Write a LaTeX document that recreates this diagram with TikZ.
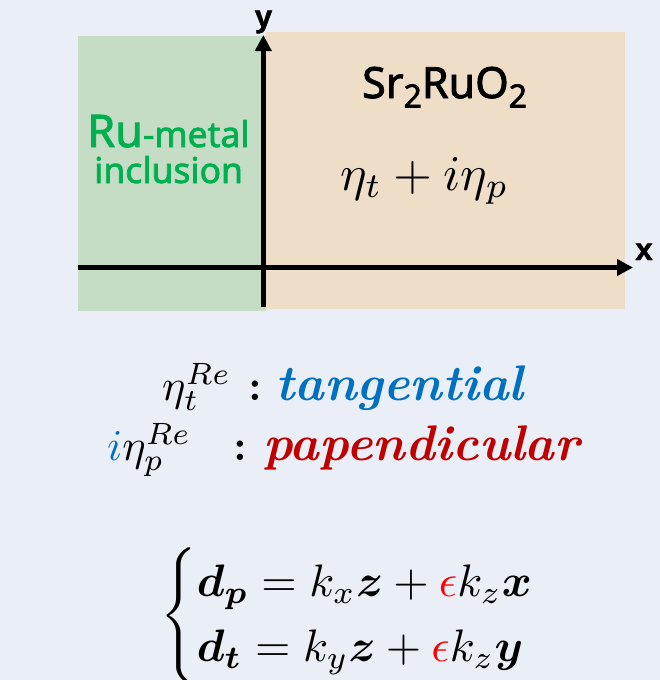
\documentclass[tikz,border=0pt]{standalone}
\usepackage{amsmath,bm}
\usepackage{fontspec}
\newfontfamily\sfnoto[FakeBold=2]{Noto Sans}
\newfontfamily\sfbold[FakeBold=1.5]{Liberation Sans Bold}
\usetikzlibrary{arrows.meta}
\definecolor{bgc}{RGB}{234,238,247}
\definecolor{greenfill}{RGB}{197,220,197}
\definecolor{tanfill}{RGB}{238,222,200}
\definecolor{rugreen}{RGB}{0,176,80}
\definecolor{tblue}{RGB}{0,112,192}
\definecolor{pred}{RGB}{192,0,0}
\definecolor{epsred}{RGB}{255,0,0}
\tikzset{
  axisline/.style={line width=5pt,-{Triangle[length=16pt,width=16pt]}},
  txt/.style={inner sep=0pt,anchor=base west},
}
\begin{document}
\begin{tikzpicture}[x=1pt,y=-1pt]
\fill[bgc] (0,0) rectangle (660,680);
\useasboundingbox (0,0) rectangle (660,680);
\fill[greenfill] (78,36) rectangle (265.5,311);
\fill[tanfill] (265.5,32) rectangle (625,309);
\coordinate (xs) at (78,267.5);
\coordinate (xe) at (633,267.5);
\coordinate (ys) at (263.3,307);
\coordinate (ye) at (263.3,35);
\draw[axisline] (xs) -- (xe);
\draw[axisline] (ys) -- (ye);
\node[inner sep=0pt,anchor=base] (ylab) at (263.5,27) {\sfbold\fontsize{31}{33}\selectfont y};
\node[inner sep=0pt,anchor=base] (xlab) at (644,260) {\sfbold\fontsize{31}{33}\selectfont x};
\node[txt] (sr) at (362,98) {\sfnoto\fontsize{43}{45}\selectfont Sr\raisebox{-0.22em}{\fontsize{32}{32}\selectfont 2}RuO\raisebox{-0.22em}{\fontsize{32}{32}\selectfont 2}};
\node[txt,text=rugreen] (ru) at (87,147) {\sfnoto\fontsize{45}{47}\selectfont Ru\fontsize{35.5}{37}\selectfont -metal};
\node[txt,text=rugreen] (incl) at (94,183) {\sfnoto\fontsize{35.5}{37}\selectfont inclusion};
\node[txt] (eta) at (340,190) {\scalebox{5}{$\eta_t + i\eta_p$}};
\node[txt] (e1) at (162,400) {\scalebox{4.4}{$\eta_t^{Re}$}};
\node[txt] (c1) at (248,400) {\fontsize{44}{46}\selectfont\bfseries :};
\node[txt,text=tblue] (w1) at (275,400) {\fontsize{50}{52}\selectfont\bfseries\itshape tangential};
\node[txt] (e2) at (107,460) {\scalebox{4.4}{$\textcolor{tblue}{i}\eta_p^{Re}$}};
\node[txt] (c2) at (233,460) {\fontsize{44}{46}\selectfont\bfseries :};
\node[txt,text=pred] (w2) at (263,460) {\fontsize{50}{52}\selectfont\bfseries\itshape papendicular};
\node[inner sep=0pt,anchor=west] (eq) at (160,616) {\scalebox{4.55}{$\begin{cases}\bm{d_p} = k_x\bm{z} + \textcolor{epsred}{\epsilon} k_z\bm{x}\\ \bm{d_t} = k_y\bm{z} + \textcolor{epsred}{\epsilon} k_z\bm{y}\end{cases}$}};
\end{tikzpicture}
\end{document}
